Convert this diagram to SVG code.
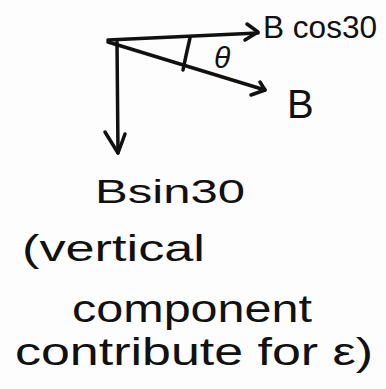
<svg xmlns="http://www.w3.org/2000/svg" width="386" height="389" viewBox="0 0 386 389">
<style>
.ln{stroke:#111;stroke-width:3.5;fill:none;stroke-linecap:round;stroke-linejoin:round}
.t{font-family:"Liberation Sans",Arial,sans-serif;fill:#111}
</style>
<rect width="386" height="389" fill="#fdfdfd"/>
<g id="connectors">
<path class="ln" d="M108 40 L258 33"/>
<path class="ln" d="M247 24 L258 32 L245 40"/>
<path class="ln" d="M108 42 L265 90"/>
<path class="ln" d="M251 95 L265 90 L260 82"/>
<path class="ln" d="M117 42 L118 153"/>
<path class="ln" d="M105 132 L118 153 L125 134"/>
<path class="ln" d="M190 38 Q186 55 183 70"/>
</g>
<g id="labels">
<text class="t" x="263" y="38" font-size="31" textLength="114" lengthAdjust="spacingAndGlyphs">B cos30</text>
<text class="t" x="214" y="68" font-size="30" font-style="italic">θ</text>
<text class="t" x="287" y="118" font-size="40">B</text>
<text class="t" x="95" y="203" font-size="34" textLength="150" lengthAdjust="spacingAndGlyphs">Bsin30</text>
<text class="t" x="22" y="261" font-size="36" textLength="183" lengthAdjust="spacingAndGlyphs">(vertical</text>
<text class="t" x="72" y="322" font-size="38" textLength="240" lengthAdjust="spacingAndGlyphs">component</text>
<text class="t" x="15" y="365" font-size="38" textLength="358" lengthAdjust="spacingAndGlyphs">contribute for ε)</text>
</g>
</svg>
